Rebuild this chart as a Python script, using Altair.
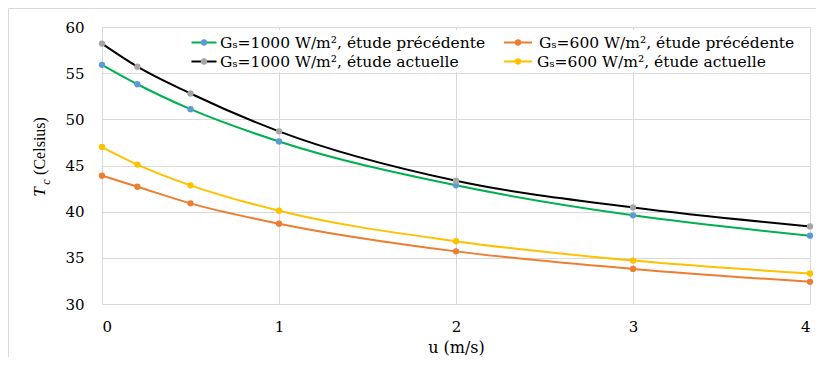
import altair as alt
import pandas as pd

# ---------------- data ----------------
u = [0, 0.2, 0.5, 1, 2, 3, 4]
g1000_prev = [55.9, 53.8, 51.1, 47.6, 42.85, 39.6, 37.4]
g1000_curr = [58.2, 55.7, 52.8, 48.7, 43.35, 40.45, 38.4]
g600_prev = [43.9, 42.7, 40.9, 38.7, 35.7, 33.8, 32.4]
g600_curr = [47.0, 45.1, 42.85, 40.1, 36.8, 34.7, 33.3]

series_names = [
    "Gₛ=1000 W/m², étude précédente",
    "Gₛ=1000 W/m², étude actuelle",
    "Gₛ=600 W/m², étude précédente",
    "Gₛ=600 W/m², étude actuelle",
]
series_values = [g1000_prev, g1000_curr, g600_prev, g600_curr]
line_colors = ["#00B050", "#000000", "#ED7D31", "#FFC000"]
marker_colors = ["#5B9BD5", "#A5A5A5", "#ED7D31", "#FFC000"]

x_ticks = [0, 1, 2, 3, 4]
y_ticks = [30, 35, 40, 45, 50, 55, 60]

rows = []
for name, vals in zip(series_names, series_values):
    for xv, yv in zip(u, vals):
        rows.append({"serie": name, "u": xv, "Tc": yv})
df = pd.DataFrame(rows)
one = pd.DataFrame({"k": [0]})

SERIF_W = "DejaVu Serif"
SERIF = "Liberation Serif, Times New Roman, serif"
GRID = "#d9d9d9"

x_enc = alt.X(
    "u:Q",
    scale=alt.Scale(domain=[0, 4], nice=False),
    axis=alt.Axis(
        values=x_ticks, format="d", title="u (m/s)", grid=True, gridColor=GRID,
        domain=False, ticks=False, labelFont=SERIF_W, labelFontSize=15,
        labelColor="#000000", labelPadding=15, titleFont=SERIF_W, titleFontSize=16,
        titleFontWeight="normal", titleColor="#000000", titlePadding=5,
    ),
)
y_enc = alt.Y(
    "Tc:Q",
    scale=alt.Scale(domain=[30, 60], nice=False, zero=False),
    axis=alt.Axis(
        values=y_ticks, title=None, grid=True, gridColor=GRID, domain=False,
        ticks=False, labelFont=SERIF_W, labelFontSize=15, labelColor="#000000",
        labelPadding=18,
    ),
)

lines = alt.Chart(df).mark_line(interpolate="monotone", strokeWidth=2).encode(
    x=x_enc, y=y_enc,
    color=alt.Color("serie:N", scale=alt.Scale(domain=series_names, range=line_colors), legend=None),
)
points = alt.Chart(df).mark_circle(size=40, opacity=1).encode(
    x=x_enc, y=y_enc,
    fill=alt.Fill("serie:N", scale=alt.Scale(domain=series_names, range=marker_colors), legend=None),
)

layers = []

# outer frame (left and top edges)
layers.append(alt.Chart(one).mark_rule(color=GRID, strokeWidth=1).encode(
    x=alt.value(-93.5), y=alt.value(-18.5), y2=alt.value(330)))
layers.append(alt.Chart(one).mark_rule(color=GRID, strokeWidth=1).encode(
    x=alt.value(-93.5), x2=alt.value(714), y=alt.value(-18.5)))

# legend background
layers.append(alt.Chart(one).mark_rect(color="#ffffff").encode(
    x=alt.value(82), x2=alt.value(705), y=alt.value(3), y2=alt.value(45)))

layers += [lines, points]

# legend entries: (series index, line x0, line x1, marker x, text x, y)
legend_pos = [
    (0, 89.5, 114.5, 102, 118, 15.5),
    (2, 402, 430, 416, 437, 15.5),
    (1, 89.5, 114.5, 102, 118, 34.5),
    (3, 402, 430, 416, 435, 34.5),
]
for idx, lx0, lx1, mx, tx, ly in legend_pos:
    layers.append(alt.Chart(one).mark_rule(color=line_colors[idx], strokeWidth=2).encode(
        x=alt.value(lx0), x2=alt.value(lx1), y=alt.value(ly)))
    layers.append(alt.Chart(one).mark_circle(size=40, opacity=1, color=marker_colors[idx]).encode(
        x=alt.value(mx), y=alt.value(ly)))
    layers.append(alt.Chart(one).mark_text(
        text=series_names[idx], font=SERIF_W, fontSize=15.5, align="left",
        baseline="middle", color="#000000").encode(x=alt.value(tx), y=alt.value(ly + 0.5)))

# y axis title: T (italic) with subscript c, then (Celsius)
layers.append(alt.Chart(one).mark_text(
    text="T", font=SERIF, fontStyle="italic", fontSize=17, angle=270,
    align="center", baseline="middle", color="#000000").encode(
    x=alt.value(-62), y=alt.value(165)))
layers.append(alt.Chart(one).mark_text(
    text="c", font=SERIF, fontStyle="italic", fontSize=12, angle=270,
    align="center", baseline="middle", color="#000000").encode(
    x=alt.value(-56.5), y=alt.value(155)))
layers.append(alt.Chart(one).mark_text(
    text="(Celsius)", font=SERIF, fontSize=16, angle=270,
    align="center", baseline="middle", color="#000000").encode(
    x=alt.value(-62), y=alt.value(119)))

chart = alt.layer(*layers).properties(
    width=708, height=277,
    autosize=alt.AutoSizeParams(type="none"),
    padding={"left": 94, "top": 19, "right": 6, "bottom": 53},
    background="#ffffff",
).configure_view(stroke=None)

chart.save("out.html", embed_options={"renderer": "svg", "actions": False})
